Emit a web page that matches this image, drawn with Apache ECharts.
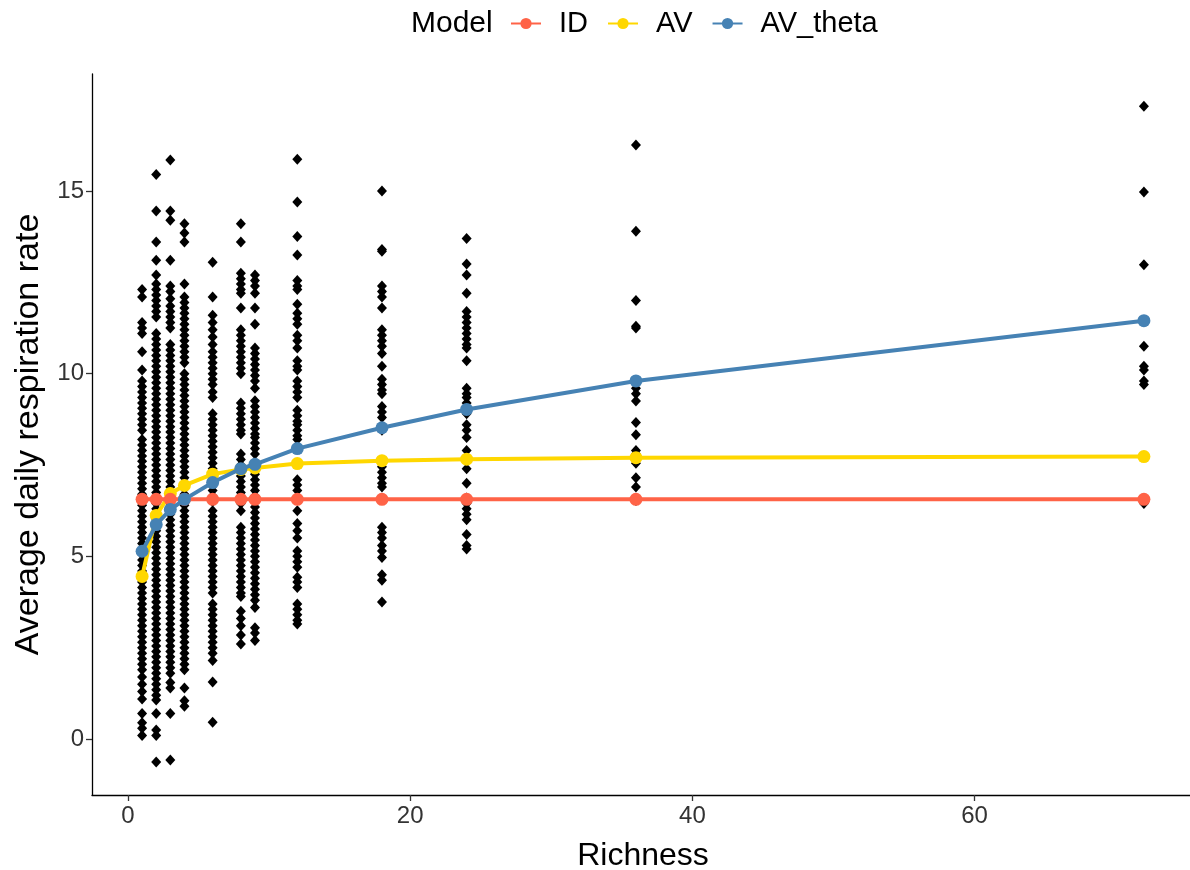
<!DOCTYPE html>
<html>
<head>
<meta charset="utf-8">
<script src="https://cdn.jsdelivr.net/npm/echarts@6/dist/echarts.min.js"></script>
<style>
html,body{margin:0;padding:0;background:#fff;}
#chart{width:1190px;height:870px;}
</style>
</head>
<body>
<div id="chart"></div>
<script>
// Model curves
const richnessLevels = [1, 2, 3, 4, 6, 8, 9, 12, 18, 24, 36, 72];
const modelID      = [6.56, 6.56, 6.56, 6.56, 6.56, 6.56, 6.56, 6.56, 6.56, 6.56, 6.56, 6.56];
const modelAV      = [4.45, 6.12, 6.72, 6.94, 7.25, 7.38, 7.42, 7.54, 7.62, 7.66, 7.7, 7.73];
const modelAVtheta = [5.14, 5.87, 6.28, 6.56, 7.02, 7.4, 7.52, 7.95, 8.52, 9.02, 9.8, 11.45];

// Observed respiration rates per richness level
const obs_r1 = [12.3, 12.1, 11.4, 11.25, 11.1, 10.6, 10.1, 9.8, 9.65, 9.5, 9.35, 9.2, 9.05, 8.9, 8.75, 8.6, 8.45, 8.2, 8.05, 7.9, 7.75, 7.6, 7.45, 7.3, 7.15, 7.0, 6.85, 6.7, 6.55, 6.4, 6.25, 6.1, 5.95, 5.8, 5.65, 5.5, 5.35, 5.2, 5.05, 4.9, 4.75, 4.6, 4.45, 4.3, 4.15, 4.0, 3.85, 3.7, 3.55, 3.4, 3.25, 3.1, 2.95, 2.8, 2.65, 2.5, 2.35, 2.2, 2.05, 1.9, 1.7, 1.5, 1.3, 1.1, 0.7, 0.45, 0.3, 0.1];
const obs_r2 = [15.45, 14.45, 13.6, 13.1, 12.7, 12.45, 12.3, 12.15, 12.0, 11.85, 11.7, 11.55, 11.1, 10.95, 10.8, 10.65, 10.5, 10.35, 10.2, 10.05, 9.9, 9.75, 9.6, 9.45, 9.3, 9.15, 9.0, 8.85, 8.7, 8.55, 8.4, 8.25, 8.1, 7.95, 7.8, 7.65, 7.5, 7.35, 7.2, 7.05, 6.9, 6.75, 6.6, 6.45, 6.3, 6.15, 6.0, 5.85, 5.7, 5.55, 5.4, 5.25, 5.1, 4.95, 4.8, 4.65, 4.5, 4.35, 4.2, 4.05, 3.9, 3.75, 3.6, 3.45, 3.3, 3.15, 3.0, 2.85, 2.7, 2.55, 2.4, 2.25, 2.1, 1.95, 1.8, 1.65, 1.5, 1.35, 1.2, 1.07, 0.7, 0.25, 0.1, -0.63];
const obs_r3 = [15.85, 14.45, 14.2, 13.1, 12.4, 12.25, 12.05, 11.85, 11.7, 11.55, 11.4, 11.25, 10.8, 10.65, 10.5, 10.35, 10.2, 10.05, 9.9, 9.75, 9.6, 9.45, 9.3, 9.15, 9.0, 8.85, 8.7, 8.55, 8.4, 8.25, 8.1, 7.95, 7.8, 7.65, 7.5, 7.35, 7.2, 7.05, 6.9, 6.75, 6.6, 6.45, 6.3, 6.15, 6.0, 5.85, 5.7, 5.55, 5.4, 5.25, 5.1, 4.95, 4.8, 4.65, 4.5, 4.35, 4.2, 4.05, 3.9, 3.75, 3.6, 3.45, 3.3, 3.15, 3.0, 2.85, 2.7, 2.55, 2.4, 2.25, 2.1, 1.95, 1.8, 1.55, 1.4, 0.7, -0.57];
const obs_r4 = [14.1, 13.85, 13.6, 12.45, 12.1, 11.95, 11.8, 11.65, 11.5, 11.35, 11.2, 11.05, 10.9, 10.75, 10.6, 10.45, 10.3, 10.0, 9.85, 9.7, 9.55, 9.4, 9.25, 9.1, 8.95, 8.8, 8.65, 8.5, 8.35, 8.2, 8.05, 7.9, 7.75, 7.6, 7.45, 7.3, 7.15, 7.0, 6.85, 6.7, 6.55, 6.4, 6.25, 6.1, 5.95, 5.8, 5.65, 5.5, 5.35, 5.2, 5.05, 4.9, 4.75, 4.6, 4.45, 4.3, 4.15, 4.0, 3.85, 3.7, 3.55, 3.4, 3.25, 3.1, 2.95, 2.8, 2.65, 2.5, 2.35, 2.2, 2.05, 1.9, 1.4, 1.05, 0.9];
const obs_r6 = [13.05, 12.1, 11.6, 11.4, 11.2, 11.0, 10.8, 10.6, 10.45, 10.3, 10.15, 10.0, 9.85, 9.7, 9.5, 9.35, 8.9, 8.75, 8.6, 8.45, 8.3, 8.15, 8.0, 7.85, 7.7, 7.55, 7.4, 7.25, 7.1, 6.95, 6.8, 6.65, 6.5, 6.25, 6.1, 5.95, 5.8, 5.65, 5.5, 5.35, 5.2, 5.05, 4.9, 4.75, 4.6, 4.45, 4.3, 4.15, 4.0, 3.7, 3.55, 3.4, 3.25, 3.1, 2.95, 2.8, 2.65, 2.5, 2.35, 2.15, 1.56, 0.46];
const obs_r8 = [14.1, 13.6, 12.75, 12.6, 12.45, 12.3, 12.2, 11.8, 11.2, 11.05, 10.9, 10.75, 10.6, 10.45, 10.3, 10.15, 10.0, 9.2, 9.05, 8.9, 8.75, 8.6, 8.45, 8.35, 7.8, 7.65, 7.5, 7.35, 7.2, 7.05, 6.9, 6.75, 6.6, 6.45, 6.25, 5.8, 5.65, 5.5, 5.35, 5.2, 5.05, 4.9, 4.75, 4.6, 4.45, 4.3, 4.15, 4.0, 3.9, 3.5, 3.3, 3.1, 2.85, 2.6];
const obs_r9 = [12.7, 12.55, 12.4, 12.2, 11.8, 11.35, 10.7, 10.55, 10.4, 10.25, 10.1, 9.95, 9.8, 9.6, 9.26, 9.1, 8.95, 8.8, 8.65, 8.5, 8.35, 8.25, 8.1, 7.95, 7.8, 7.55, 7.4, 7.25, 7.1, 6.95, 6.8, 6.65, 6.5, 6.35, 6.2, 6.05, 5.9, 5.75, 5.6, 5.45, 5.3, 5.15, 5.0, 4.85, 4.7, 4.55, 4.4, 4.25, 4.1, 3.95, 3.8, 3.6, 3.05, 2.9, 2.7];
const obs_r12 = [15.87, 14.7, 13.75, 13.25, 12.55, 12.4, 12.3, 11.9, 11.65, 11.5, 11.35, 11.05, 10.9, 10.7, 10.35, 10.2, 10.1, 9.8, 9.65, 9.5, 9.35, 9.0, 8.85, 8.7, 8.6, 8.45, 8.3, 8.2, 7.98, 7.55, 7.1, 6.95, 6.8, 6.25, 5.9, 5.7, 5.5, 5.15, 5.0, 4.85, 4.7, 4.43, 4.3, 4.15, 3.7, 3.55, 3.4, 3.25, 3.15];
const obs_r18 = [15.0, 13.4, 13.35, 12.4, 12.25, 12.1, 11.8, 11.2, 11.05, 10.9, 10.75, 10.55, 10.2, 9.85, 9.7, 9.55, 9.45, 9.1, 8.95, 8.8, 8.45, 7.6, 7.45, 7.3, 7.15, 7.0, 6.9, 5.8, 5.65, 5.5, 5.3, 5.15, 4.97, 4.5, 4.35, 3.75];
const obs_r24 = [13.7, 13.0, 12.7, 12.2, 11.7, 11.55, 11.4, 11.25, 11.1, 10.95, 10.8, 10.7, 10.35, 9.6, 9.45, 9.35, 9.2, 8.9, 8.6, 8.45, 8.25, 7.9, 7.4, 7.0, 6.6, 6.45, 6.3, 6.15, 6.0, 5.6, 5.3, 5.2];
const obs_r36 = [16.26, 13.9, 12.0, 11.3, 11.25, 9.8, 9.6, 9.45, 9.25, 8.66, 8.33, 7.9, 7.8, 7.7, 7.55, 7.15, 6.9, 6.53];
const obs_r72 = [17.32, 14.97, 12.98, 10.75, 10.2, 10.1, 9.8, 9.7, 6.45];

const observedByRichness = [
  [1, obs_r1], [2, obs_r2], [3, obs_r3], [4, obs_r4], [6, obs_r6], [8, obs_r8],
  [9, obs_r9], [12, obs_r12], [18, obs_r18], [24, obs_r24], [36, obs_r36], [72, obs_r72]
];

const xTicks = [0, 20, 40, 60];
const yTicks = [0, 5, 10, 15];

const scatterData = [];
observedByRichness.forEach(([r, vals]) => vals.forEach(v => scatterData.push([r, v])));
const pair = arr => richnessLevels.map((r, i) => [r, arr[i]]);

const FONT = '"Liberation Sans", Arial, sans-serif';
const chart = echarts.init(document.getElementById('chart'), null, {renderer: 'canvas'});

const lineSeries = (name, color, arr, z) => ({
  name, type: 'line', data: pair(arr), z,
  symbol: 'circle', symbolSize: 13,
  lineStyle: {color, width: 4},
  itemStyle: {color},
  emphasis: {disabled: true},
  animation: false
});

chart.setOption({
  animation: false,
  backgroundColor: '#ffffff',
  title: {
    text: 'Model', left: 406, top: 4,
    textStyle: {fontFamily: FONT, fontSize: 30, fontWeight: 'normal', color: '#000'}
  },
  legend: {
    data: ['ID', 'AV', 'AV_theta'],
    left: 510, top: 9, padding: 0,
    itemWidth: 30, itemHeight: 14, itemGap: 19,
    textStyle: {fontFamily: FONT, fontSize: 29, color: '#000', padding: [0, 0, 0, 13]}
  },
  grid: {left: 92, top: 74, width: 1102, height: 721, containLabel: false, outerBoundsMode: 'none'},
  xAxis: {
    type: 'value', min: -2.55, max: 75.55,
    name: 'Richness', nameLocation: 'middle', nameGap: 45,
    nameTextStyle: {fontFamily: FONT, fontSize: 32, color: '#000'},
    splitLine: {show: false},
    axisLine: {show: true, onZero: false, lineStyle: {color: '#000', width: 1.3}},
    axisTick: {show: true, length: 6, customValues: xTicks, lineStyle: {color: '#333', width: 1.3}},
    axisLabel: {customValues: xTicks, margin: 9, fontFamily: FONT, fontSize: 24, color: '#333'}
  },
  yAxis: {
    type: 'value', min: -1.53, max: 18.2,
    name: 'Average daily respiration rate', nameLocation: 'middle', nameGap: 46, nameRotate: 90,
    nameTextStyle: {fontFamily: FONT, fontSize: 34, color: '#000'},
    splitLine: {show: false},
    axisLine: {show: true, onZero: false, lineStyle: {color: '#000', width: 1.3}},
    axisTick: {show: true, length: 6, customValues: yTicks, lineStyle: {color: '#333', width: 1.3}},
    axisLabel: {customValues: yTicks, margin: 8, fontFamily: FONT, fontSize: 24, color: '#333'}
  },
  series: [
    {
      name: 'obs', type: 'scatter', data: scatterData, z: 1,
      symbol: 'diamond', symbolSize: [10, 11],
      itemStyle: {color: '#000', opacity: 1},
      emphasis: {disabled: true}, animation: false
    },
    lineSeries('ID', '#FF6347', modelID, 4),
    lineSeries('AV', '#FFD700', modelAV, 3),
    lineSeries('AV_theta', '#4682B4', modelAVtheta, 5)
  ]
});
</script>
</body>
</html>
